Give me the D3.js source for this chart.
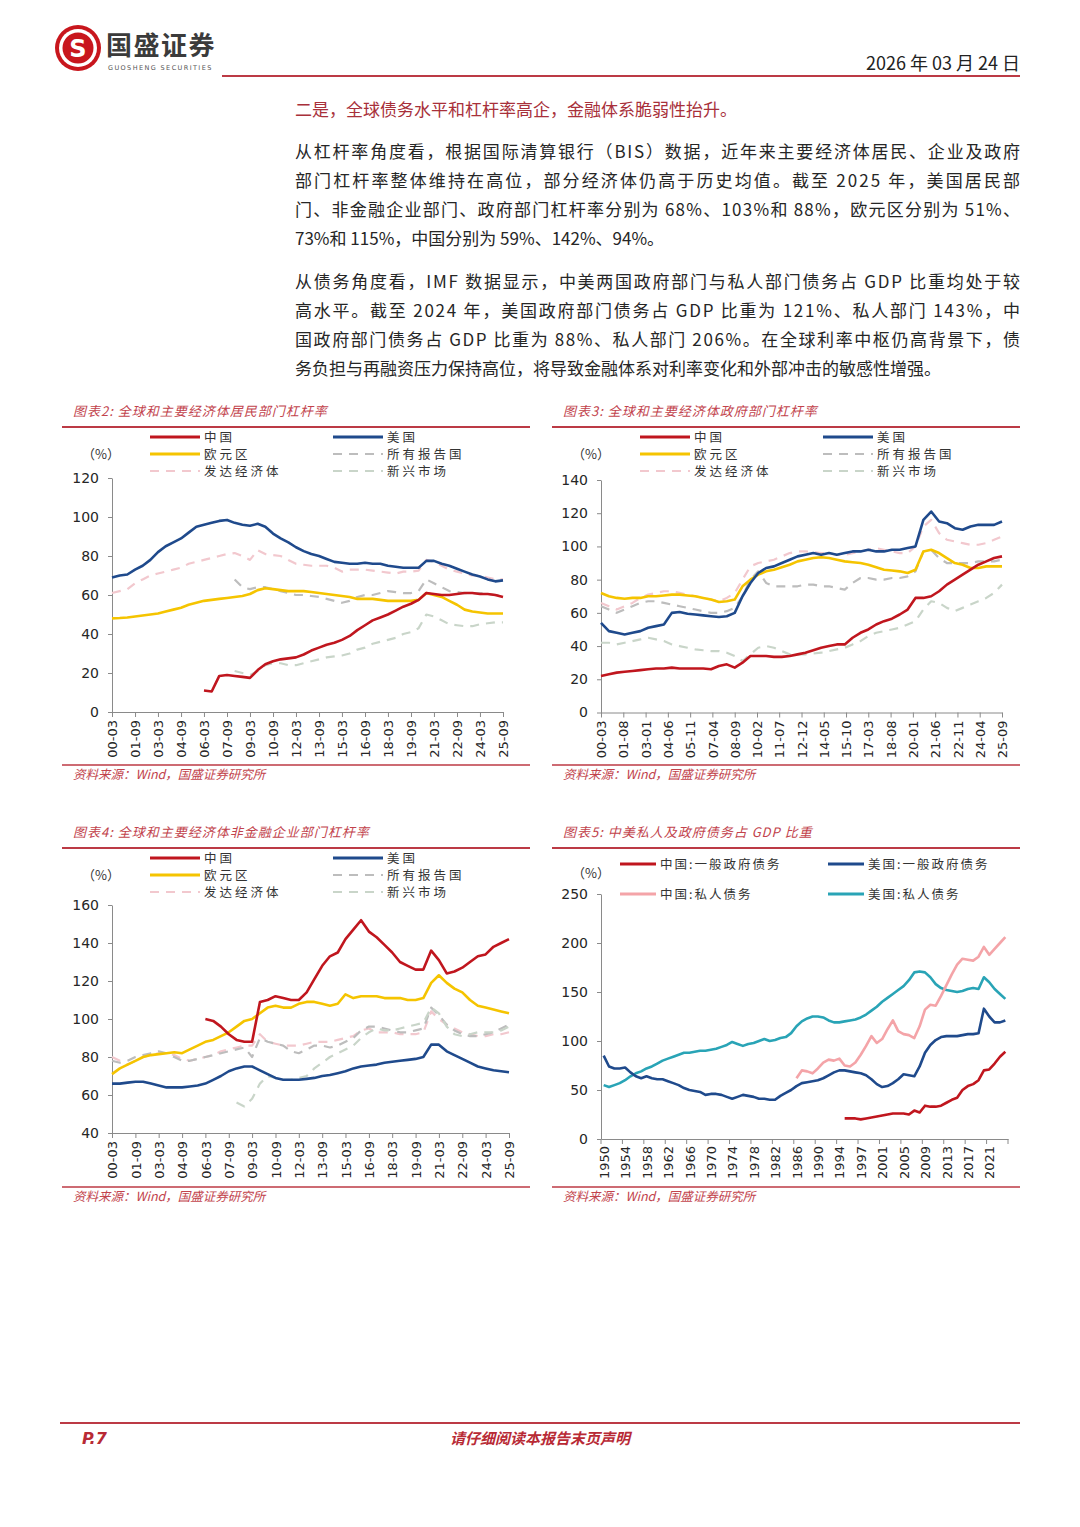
<!DOCTYPE html>
<html>
<head>
<meta charset="utf-8">
<script src="https://cdn.jsdelivr.net/npm/d3@7"></script>
<style>
  body { margin: 0; background: #ffffff; }
  svg { display: block; }
</style>
</head>
<body>
<script>
// ---------- data ----------
// half-year sampling points used for the BIS series (00-03, 00-09, ... 25-09)
var halfLabels = [];
d3.range(0, 26).forEach(function (yy) {
  var s = (yy < 10 ? "0" : "") + yy;
  halfLabels.push(s + "-03", s + "-09");
});

var quarterTickLabels = ["00-03","01-09","03-03","04-09","06-03","07-09","09-03","10-09","12-03",
  "13-09","15-03","16-09","18-03","19-09","21-03","22-09","24-03","25-09"];
var monthTickLabels = ["00-03","01-08","03-01","04-06","05-11","07-04","08-09","10-02","11-07","12-12",
  "14-05","15-10","17-03","18-08","20-01","21-06","22-11","24-04","25-09"];

var legendNames = ["中国", "美国", "欧元区", "所有报告国", "发达经济体", "新兴市场"];

// chart 2: household leverage (%)
var hhChina = [11,10.5,18.5,19,18.5,18,17.5,21.5,24.5,26, 27,27.5,28,29.5,31.5,33,34.5,35.5,37,39,
  42,44.5,47,48.5,50,52,54,55.5,57.5,61, 60.5,60,60,60.5,61,61,60.5,60.5,60,59];
var hhUS = [69,70,70.5,73,75,78,82,85,87,89, 92,95,96,97,98,98.5,97,96,95.5,96.5,
  95,91.5,89,87,84.5,82.5,81,80,78.5,77, 76.5,76,76,76.5,76,76,75,74.5,74,74,
  74,77.5,77.5,76,75,73.5,72,70.5,69.5,68,67,67.5];
var hhEuro = [48,48.2,48.5,49,49.5,50,50.5,51.5,52.5,53.5, 55,56,57,57.5,58,58.5,59,59.5,60.5,62.5,
  63.5,63,62.5,62,62,62,61.5,61,60.5,60, 59.5,59,58,58,58,57.5,57,57,57,57,
  57.5,61,60,59,57,55,52.5,51.5,51,50.5,50.5,50.5];
var hhAll = [68,64,63,64,64,63,62,61,60,60, 59.5,59,58,57,56,57,59,60,60,61,
  62,61.5,61,61,62,68,66,64,62,61.5, 61,61,61,60.5,60,60];
var hhDev = [61,62,63,66,68,70,71,72,73,74, 76,77,78,79,80,81,81.5,80,78,83,
  81,80.5,80,78,76,75.5,75,75,75,74, 72,73,73,73,72.5,72,71.5,71,72,72,
  72.5,78,77,75,73,72,71,70,70,69,68,68];
var hhEm = [21,20,19,21,24,25,25,24,24,25, 26,27,28,28.5,29,30,32,33,35,36,
  37,38,40,41,43,50,49,47,45,44.5, 44,44,45,45.5,46,46];

// chart 3: government leverage (%)
var govChina = [22,23,24,24.5,25,25.5,26,26.5,26.5,27, 26.5,26.5,26.5,26.5,26,28,29,27,30,34,
  34,34,33.5,33.5,34,35,36,37.5,39,40, 41,41,45,48,50,53,55,56.5,59,62,
  69,69,70,73,77,80,83,86,89,91,93,94];
var govUS = [54,49,48,47,48,49,51,52,53,60, 60.5,59.5,59,58.5,58,57.5,58,60,70,78,
  84,87,88,90,92,94,95,96,95,96, 95,96,97,97,98,97,97,98,98,99,
  100,116,121,115,114,111,110,112,113,113,113,115];
var govEuro = [72,70,69,68.5,69,69,70,70,70.5,71, 71,70.5,70,69,68,66.5,67,68,76,80,
  83,85,86,87.5,89,91,92,93,93.5,93, 92,91,90.5,90,89,87.5,86,85.5,85,84,
  86,97,98,96,93,90,89,87,87,88,88,88];
var govAll = [64,62,60,62,64,66,67,67,66,65, 64,63,62,61,60,60,61,63,70,80,
  85,78,76,76,76,76,77,77,76,76, 75,74,78,81,81,80,80,81,81,82,
  85,97,98,93,90,90,90,90,91,91,91,92];
var govDev = [66,64,62,64,66,69,71,72,73,73, 72,71,70,69,68,67,69,72,80,88,
  90,91,92,94,96,97,97,96.5,96,96, 95,95,96,97,98,99,98,97,96,96,
  100,112,116,108,104,103,102,101,101,102,104,106];
var govEm = [42,42,41,42,43,44,45,44,43,41, 40,39,38,37.5,37,37,36,34,31,35,
  39,40,39,37,35,35,35,35.5,36,37, 38,39,41,43,46,48,49,50,51,53,
  55,62,67,66,63,61,63,65,67,69,72,77];

// chart 4: non-financial corporate leverage (%)
var corpChina = [100,99,96,92,89,88,88,109,110,112, 111,110,110,114,121,128,133,135,142,147,
  152,146,143,139,135,130,128,126,126,136, 131,124,125,127,130,133,134,138,140,142];
var corpUS = [66,66,66.5,67,67,66,65,64,64,64, 64.5,65,66,68,70,72.5,74,75,75,73,
  71,69,68,68,68,68.5,69,70,70.5,71.5, 72.5,74,75,75.5,76,77,77.5,78,78.5,79,
  80,86.5,86.5,83,81,79,77,75,74,73,72.5,72];
var corpEuro = [71,74,76,78,80,81,81.5,82,82.5,82, 84,86,88,89,91,93,96,99,100,103,
  106,107,106,106,108,109,109,108,107,108, 113,111,112,112,112,111,111,111,110,110,
  111,119,123,119,116,114,110,107,106,105,104,103];
var corpAll = [78,77,78,80,81,82,83,82,80,78, 78,79,80,81,82,83,84,85,80,90,
  88,87,86,83,82,84,86,86,85,86, 88,90,94,96,96,95,94,93,93,94,
  95,106,102,97,94,92,91,91,92,93,95,97];
var corpDev = [80,78,76,78,80,81,82,82,81,79, 78,79,80,81,83,84,85,86,86,92,
  88,87,86,86,86,87,88,88,88,89, 90,91,94,95,93,93,93,92,92,92,
  93,104,100,97,95,93,92,91,91,92,92,93];
var corpEm = [56,54,58,66,70,69,68,68,69,70, 74,77,80,82,84,86,90,93,95,94,
  94,95,96,97,98,106,103,96,92,91, 92,93,93,93,94,96];

// chart 5: debt / GDP, China & US (IMF), categories as on the axis
var debtYears = d3.range(1950, 1996).concat(d3.range(1995, 2025));
var debtNames = ["中国:一般政府债务", "美国:一般政府债务", "中国:私人债务", "美国:私人债务"];
var cnGovDebt = [21,21,21,20,21,22,23,24,25,26,26, 26,25,29,27,34,33,33,34,37,40,
  42,50,54,56,60,70,71,77,84,89];
var usGovDebt = [85,74,72,72,73,68,64,62,64,62, 61,61,59,57,55,52,50,49,48,45,
  46,46,45,43,41,43,45,44,43,41, 41,40,40,44,47,50,54,57,58,59,
  60,62,65,68,70, 70,69,68,67,65,61,56,53,54,57, 61,66,65,64,74,88,96,101,104,105,
  105,105,106,107,107,108,133,125,119,119,121];
var cnPrivDebt = [62,70,69,67,72,78,81,80,82,75, 74,78,86,95,105,98,102,112,121,110,
  107,106,103,115,132,137,136,146,157,168, 178,184,183,182,186,196,188,194,200,206];
var usPrivDebt = [55,53,55,57,60,64,67,69,72,74, 77,80,82,84,86,88,88,89,90,90,
  91,92,94,96,99,97,95,97,98,100, 102,100,101,103,104,108,115,120,123,125,
  125,124,121,119,119, 120,121,122,124,127,131,135,140,144,148, 152,156,162,170,171,170,
  165,158,154,152,151,150,151,153,154,153,165,160,153,148,143];

// ---------- styles ----------
var redLine = "#BC3A45";
var titleRed = "#C2434C";
var cnRed = "#C0161E", usBlue = "#1F4A8C", euYellow = "#F5C400";
var allGray = "#BDBDBD", devPink = "#F2C8CE", emGreen = "#C9D5C9";
var cnPink = "#F4A4A8", usTeal = "#29A4B6";
var cjk = "'Noto Sans CJK SC', 'Noto Sans', sans-serif";
var latin = "'DejaVu Sans', Verdana, sans-serif";

var parseYM = d3.timeParse("%y-%m");

var svg = d3.select("body").append("svg")
    .attr("width", 1080)
    .attr("height", 1527);

svg.append("rect").attr("width", 1080).attr("height", 1527).attr("fill", "#ffffff");

// ---------- header ----------
var logo = svg.append("g").attr("transform", "translate(78,48)");
logo.append("circle").attr("r", 23).attr("fill", "#C8161D");
logo.append("circle").attr("r", 19).attr("fill", "#ffffff");
logo.append("circle").attr("r", 15.5).attr("fill", "#C8161D");
logo.append("text")
    .attr("text-anchor", "middle").attr("dy", "0.36em")
    .style("font-family", latin).style("font-weight", "bold").style("font-size", "24px")
    .attr("fill", "#ffffff").text("S");

svg.append("text").attr("x", 106).attr("y", 55)
    .style("font-family", cjk).style("font-weight", "bold").style("font-size", "26px")
    .style("letter-spacing", "1.5px")
    .attr("fill", "#3b3b3b").text("国盛证券");
svg.append("text").attr("x", 108).attr("y", 70)
    .style("font-family", latin).style("font-size", "6.5px").style("letter-spacing", "1.4px")
    .attr("fill", "#555555").text("GUOSHENG SECURITIES");

svg.append("text").attr("x", 1020).attr("y", 70).attr("text-anchor", "end")
    .style("font-family", cjk).style("font-size", "18px").attr("fill", "#222222")
    .text("2026 年 03 月 24 日");

svg.append("line").attr("x1", 222).attr("x2", 1020).attr("y1", 76).attr("y2", 76)
    .attr("stroke", redLine).attr("stroke-width", 2);

// ---------- body text ----------
svg.append("text").attr("x", 295).attr("y", 116)
    .style("font-family", cjk).style("font-size", "17px").attr("fill", "#A8303A")
    .text("二是，全球债务水平和杠杆率高企，金融体系脆弱性抬升。");

var para1 = [
  "从杠杆率角度看，根据国际清算银行（BIS）数据，近年来主要经济体居民、企业及政府",
  "部门杠杆率整体维持在高位，部分经济体仍高于历史均值。截至 2025 年，美国居民部",
  "门、非金融企业部门、政府部门杠杆率分别为 68%、103%和 88%，欧元区分别为 51%、",
  "73%和 115%，中国分别为 59%、142%、94%。"
];
var para2 = [
  "从债务角度看，IMF 数据显示，中美两国政府部门与私人部门债务占 GDP 比重均处于较",
  "高水平。截至 2024 年，美国政府部门债务占 GDP 比重为 121%、私人部门 143%，中",
  "国政府部门债务占 GDP 比重为 88%、私人部门 206%。在全球利率中枢仍高背景下，债",
  "务负担与再融资压力保持高位，将导致金融体系对利率变化和外部冲击的敏感性增强。"
];

function drawPara(lines, y0) {
  lines.forEach(function (s, i) {
    var t = svg.append("text").attr("x", 295).attr("y", y0 + i * 29)
        .style("font-family", cjk).style("font-size", "17px").attr("fill", "#262626")
        .text(s);
    if (i < lines.length - 1) {
      t.attr("textLength", 725).attr("lengthAdjust", "spacing");
    }
  });
}
drawPara(para1, 158);
drawPara(para2, 288);

// ---------- helpers ----------
function legendItem(g, x, y, len, color, dashed, label, spacing) {
  g.append("line").attr("x1", x).attr("x2", x + len).attr("y1", y).attr("y2", y)
      .attr("stroke", color).attr("stroke-width", dashed ? 2.2 : 3)
      .attr("stroke-dasharray", dashed ? "9,7" : null);
  g.append("text").attr("x", x + len + 4).attr("y", y + 4.5)
      .style("font-family", cjk).style("font-size", "12.5px")
      .style("letter-spacing", spacing + "px").attr("fill", "#333333")
      .text(label);
}

function panelFrame(p, title) {
  var g = svg.append("g");
  g.append("text").attr("x", p.left + 11).attr("y", p.titleY)
      .style("font-family", cjk).style("font-size", "13px").style("font-style", "italic")
      .style("letter-spacing", "1px")
      .attr("fill", titleRed).text(title);
  g.append("line").attr("x1", p.left).attr("x2", p.right)
      .attr("y1", p.titleY + 11).attr("y2", p.titleY + 11)
      .attr("stroke", redLine).attr("stroke-width", 2);
  g.append("line").attr("x1", p.left).attr("x2", p.right)
      .attr("y1", p.bottomY).attr("y2", p.bottomY)
      .attr("stroke", redLine).attr("stroke-width", 1.5);
  g.append("text").attr("x", p.left + 11).attr("y", p.bottomY + 14)
      .style("font-family", cjk).style("font-size", "12.5px").style("font-style", "italic")
      .attr("fill", titleRed).text("资料来源：Wind，国盛证券研究所");
  g.append("text").attr("x", p.left + 20).attr("y", p.legendY + 22)
      .style("font-family", cjk).style("font-size", "13px").attr("fill", "#333333")
      .text("（%）");
  return g;
}

function styleAxis(a) {
  a.select(".domain").attr("stroke", "#8a8a8a");
  a.selectAll(".tick line").attr("stroke", "#8a8a8a");
  a.selectAll(".tick text").attr("fill", "#262626").style("font-family", latin);
}

function bisChart(p) {
  var g = panelFrame(p, p.title);

  var x = d3.scaleTime().domain([parseYM("00-03"), parseYM("25-09")]).range([p.x0, p.x1]);
  var y = d3.scaleLinear().domain(p.yDomain).range([p.yBase, p.yTop]);

  // legend
  var colA = p.left + 88, colB = p.left + 271;
  legendItem(g, colA, p.legendY, 50, cnRed, false, legendNames[0], 3);
  legendItem(g, colB, p.legendY, 50, usBlue, false, legendNames[1], 3);
  legendItem(g, colA, p.legendY + 17, 50, euYellow, false, legendNames[2], 3);
  legendItem(g, colB, p.legendY + 17, 50, allGray, true, legendNames[3], 3);
  legendItem(g, colA, p.legendY + 34, 50, devPink, true, legendNames[4], 3);
  legendItem(g, colB, p.legendY + 34, 50, emGreen, true, legendNames[5], 3);

  // axes
  var ay = g.append("g").attr("transform", "translate(" + p.x0 + ",0)")
      .call(d3.axisLeft(y).tickValues(d3.range(p.yDomain[0], p.yDomain[1] + 1, p.yStep))
          .tickSize(4).tickSizeOuter(0).tickPadding(9));
  ay.selectAll(".tick text").style("font-size", "14px");
  styleAxis(ay);

  var ax = g.append("g").attr("transform", "translate(0," + p.yBase + ")")
      .call(d3.axisBottom(x).tickValues(p.xTicks.map(parseYM))
          .tickFormat(d3.timeFormat("%y-%m")).tickSize(5).tickSizeOuter(0));
  ax.selectAll(".tick text")
      .attr("transform", "rotate(-90)")
      .attr("text-anchor", "end")
      .attr("x", -8).attr("y", 0).attr("dy", "0.36em")
      .style("font-size", "13px");
  styleAxis(ax);

  var line = d3.line()
      .x(function (d) { return x(d.date); })
      .y(function (d) { return y(d.v); });

  p.series.forEach(function (s) {
    var i0 = halfLabels.indexOf(s.start || "00-03");
    var pts = s.values.map(function (v, i) {
      return { date: parseYM(halfLabels[i0 + i]), v: v };
    });
    g.append("path").datum(pts)
        .attr("d", line)
        .attr("fill", "none")
        .attr("stroke", s.color)
        .attr("stroke-width", s.dash ? 2.2 : 2.6)
        .attr("stroke-dasharray", s.dash ? "9,7" : null)
        .attr("stroke-linejoin", "round");
  });
}

// ---------- chart 2 ----------
bisChart({
  title: "图表2:  全球和主要经济体居民部门杠杆率",
  left: 62, right: 530, titleY: 416, legendY: 437, bottomY: 765,
  x0: 112, x1: 503, yBase: 712, yTop: 478, yDomain: [0, 120], yStep: 20,
  xTicks: quarterTickLabels,
  series: [
    { values: hhDev, color: devPink, dash: true },
    { values: hhAll, color: allGray, dash: true, start: "08-03" },
    { values: hhEm, color: emGreen, dash: true, start: "08-03" },
    { values: hhEuro, color: euYellow },
    { values: hhUS, color: usBlue },
    { values: hhChina, color: cnRed, start: "06-03" }
  ]
});

// ---------- chart 3 ----------
bisChart({
  title: "图表3:  全球和主要经济体政府部门杠杆率",
  left: 552, right: 1020, titleY: 416, legendY: 437, bottomY: 765,
  x0: 601, x1: 1002, yBase: 712.5, yTop: 480, yDomain: [0, 140], yStep: 20,
  xTicks: monthTickLabels,
  series: [
    { values: govDev, color: devPink, dash: true },
    { values: govAll, color: allGray, dash: true },
    { values: govEm, color: emGreen, dash: true },
    { values: govEuro, color: euYellow },
    { values: govUS, color: usBlue },
    { values: govChina, color: cnRed }
  ]
});

// ---------- chart 4 ----------
bisChart({
  title: "图表4:  全球和主要经济体非金融企业部门杠杆率",
  left: 62, right: 530, titleY: 837, legendY: 858, bottomY: 1187,
  x0: 112, x1: 509, yBase: 1133, yTop: 905, yDomain: [40, 160], yStep: 20,
  xTicks: quarterTickLabels,
  series: [
    { values: corpDev, color: devPink, dash: true },
    { values: corpAll, color: allGray, dash: true },
    { values: corpEm, color: emGreen, dash: true, start: "08-03" },
    { values: corpEuro, color: euYellow },
    { values: corpUS, color: usBlue },
    { values: corpChina, color: cnRed, start: "06-03" }
  ]
});

// ---------- chart 5 ----------
(function () {
  var p = { left: 552, right: 1020, titleY: 837, legendY: 856, bottomY: 1187 };
  var g = panelFrame(p, "图表5:  中美私人及政府债务占 GDP 比重");

  var x = d3.scaleLinear().domain([-0.5, debtYears.length - 0.5]).range([601, 1008]);
  var y = d3.scaleLinear().domain([0, 250]).range([1139, 894]);

  legendItem(g, 620, 864, 36, cnRed, false, debtNames[0], 2);
  legendItem(g, 828, 864, 36, usBlue, false, debtNames[1], 2);
  legendItem(g, 620, 894, 36, cnPink, false, debtNames[2], 2);
  legendItem(g, 828, 894, 36, usTeal, false, debtNames[3], 2);

  var ay = g.append("g").attr("transform", "translate(601,0)")
      .call(d3.axisLeft(y).tickValues(d3.range(0, 251, 50))
          .tickSize(4).tickSizeOuter(0).tickPadding(9));
  ay.selectAll(".tick text").style("font-size", "14px");
  styleAxis(ay);

  var labelIdx = d3.range(0, debtYears.length, 4);
  var ax = g.append("g").attr("transform", "translate(0,1139)")
      .call(d3.axisBottom(x).tickValues(labelIdx)
          .tickFormat(function (i) { return debtYears[i]; }).tickSize(0).tickSizeOuter(0));
  ax.selectAll(".tick text")
      .attr("transform", "rotate(-90)")
      .attr("text-anchor", "end")
      .attr("x", -7).attr("y", 0).attr("dy", "0.36em")
      .style("font-size", "13px");
  styleAxis(ax);
  // tick marks sit on category boundaries
  g.selectAll(".cattick").data(labelIdx.concat([debtYears.length]))
      .enter().append("line")
      .attr("x1", function (i) { return x(i - 0.5); })
      .attr("x2", function (i) { return x(i - 0.5); })
      .attr("y1", 1139).attr("y2", 1144)
      .attr("stroke", "#8a8a8a");

  var line = d3.line()
      .x(function (d) { return x(d.i); })
      .y(function (d) { return y(d.v); });

  var series = [
    { values: usPrivDebt, start: 0, color: usTeal },
    { values: usGovDebt, start: 0, color: usBlue },
    { values: cnPrivDebt, start: debtYears.indexOf(1986), color: cnPink },
    { values: cnGovDebt, start: debtYears.indexOf(1995), color: cnRed }
  ];
  series.forEach(function (s) {
    var pts = s.values.map(function (v, k) { return { i: s.start + k, v: v }; });
    g.append("path").datum(pts)
        .attr("d", line)
        .attr("fill", "none")
        .attr("stroke", s.color)
        .attr("stroke-width", 2.6)
        .attr("stroke-linejoin", "round");
  });
})();

// ---------- footer ----------
svg.append("line").attr("x1", 60).attr("x2", 1020).attr("y1", 1423).attr("y2", 1423)
    .attr("stroke", redLine).attr("stroke-width", 2);
svg.append("text").attr("x", 82).attr("y", 1444)
    .style("font-family", latin).style("font-size", "16px")
    .style("font-weight", "bold").style("font-style", "italic")
    .attr("fill", "#B82A35").text("P.7");
svg.append("text").attr("x", 540).attr("y", 1444).attr("text-anchor", "middle")
    .style("font-family", cjk).style("font-size", "15px")
    .style("font-weight", "bold").style("font-style", "italic")
    .attr("fill", "#B82A35").text("请仔细阅读本报告末页声明");
</script>
</body>
</html>
